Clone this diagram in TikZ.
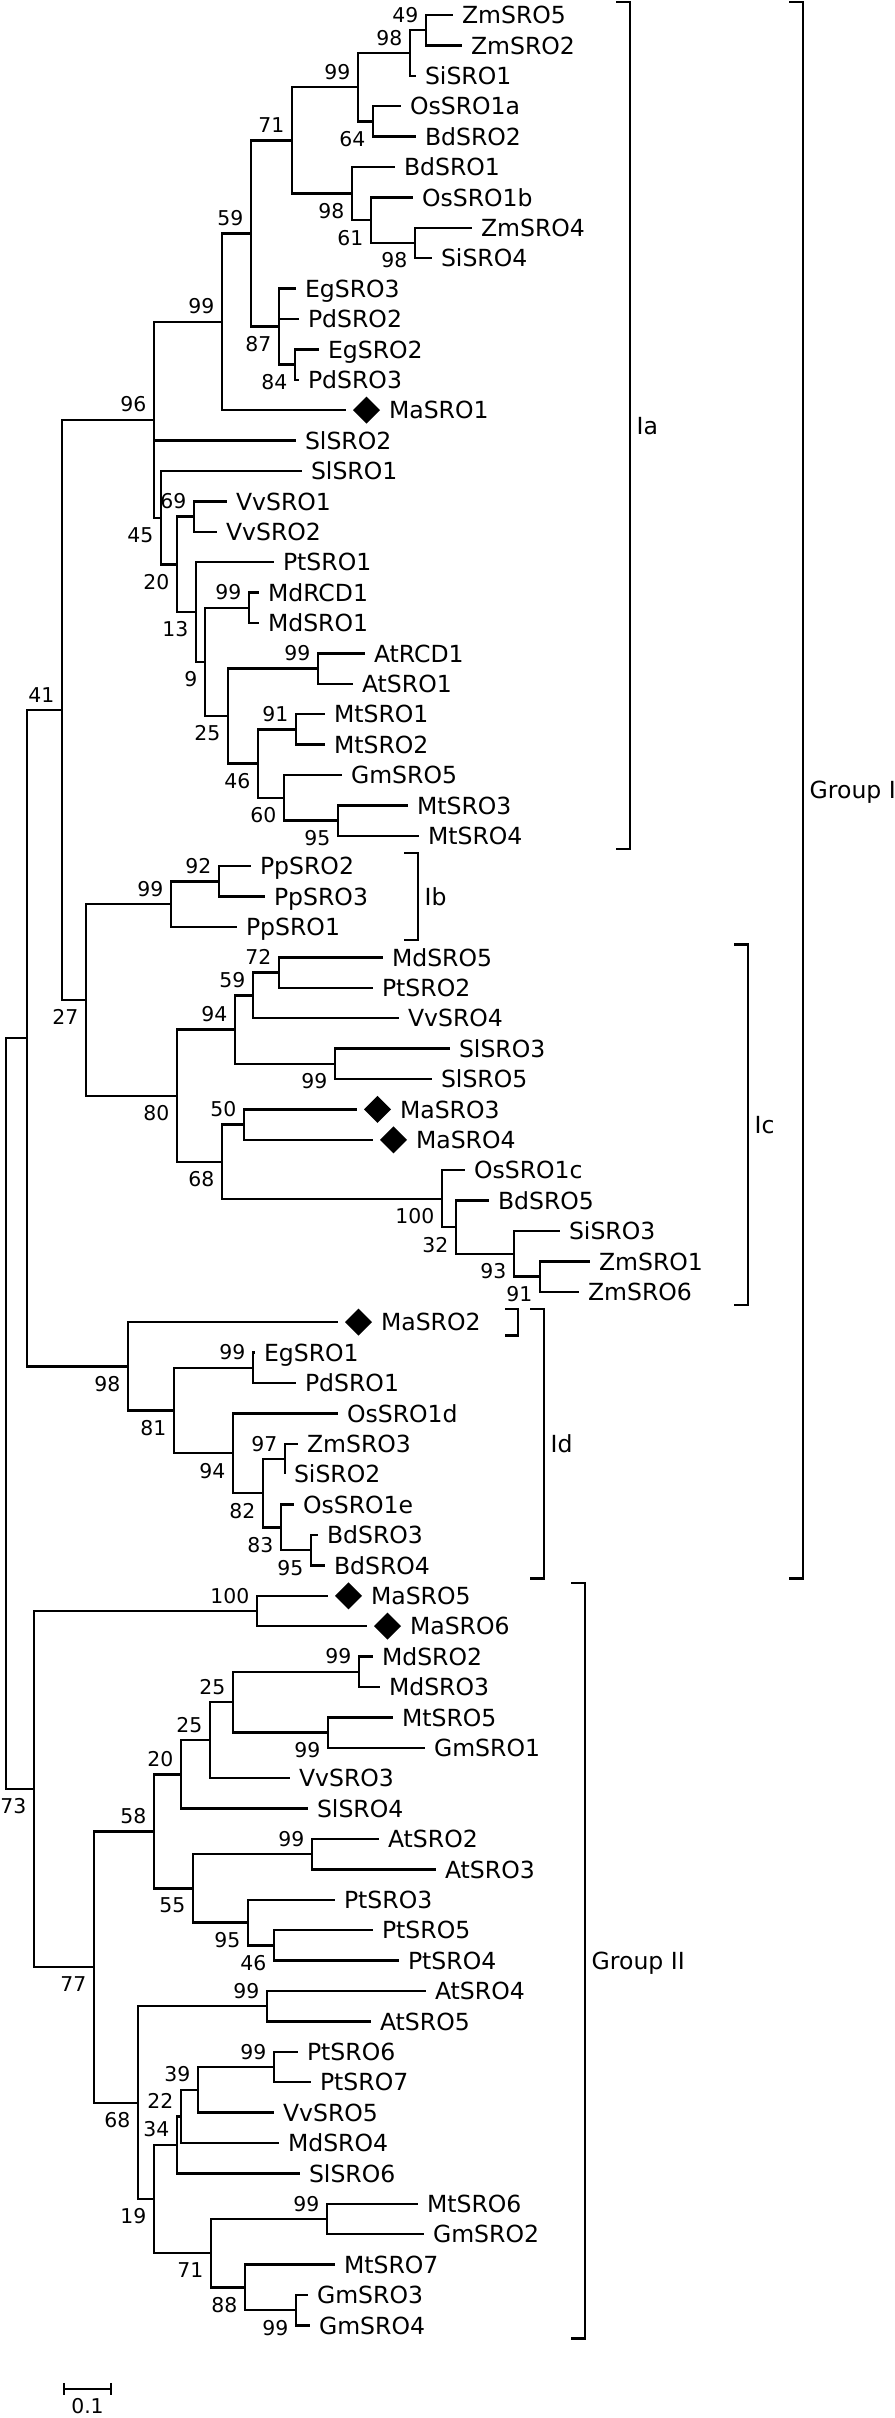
\documentclass[tikz,border=0pt]{standalone}
\usepackage{fontspec}
\setmainfont{DejaVu Sans}
\usetikzlibrary{positioning,shapes.geometric}
\tikzset{
  branch/.style={line width=0.65pt},
  leaf/.style={anchor=west,inner xsep=0.9mm,inner ysep=0pt,outer sep=0pt,
    font=\fontsize{6.7}{8}\selectfont,text height=4.9pt,text depth=0pt},
  gem/.style={diamond,fill=black,inner sep=0pt,outer sep=0pt,minimum width=2.7mm,minimum height=2.7mm},
  boot/.style={inner sep=0pt,font=\fontsize{5.8}{7}\selectfont},
  bsa/.style={boot,anchor=south east,xshift=-0.7mm,yshift=0.7mm},
  bsb/.style={boot,anchor=north east,xshift=-0.7mm,yshift=-0.9mm},
  bracket/.style={line width=0.7pt},
  grp/.style={anchor=west,inner sep=0pt,xshift=0.6mm,font=\fontsize{6.7}{8}\selectfont,
    text height=4.9pt,text depth=0pt}
}
\begin{document}
\begin{tikzpicture}[x=0.1mm,y=-3.04mm]
\useasboundingbox (0,-0.4934) rectangle (894,79.0461);
\foreach \n/\t/\r in {ZmSRO5/453/0,ZmSRO2/462/1,SiSRO1/416/2,OsSRO1a/401/3,BdSRO2/416/4,
  BdSRO1/395/5,OsSRO1b/413/6,ZmSRO4/472/7,SiSRO4/432/8,EgSRO3/296/9,PdSRO2/299/10,
  EgSRO2/319/11,PdSRO3/299/12,SlSRO2/296/14,SlSRO1/302/15,VvSRO1/227/16,VvSRO2/217/17,
  PtSRO1/274/18,MdRCD1/259/19,MdSRO1/259/20,AtRCD1/365/21,AtSRO1/353/22,MtSRO1/325/23,
  MtSRO2/325/24,GmSRO5/342/25,MtSRO3/408/26,MtSRO4/419/27,PpSRO2/251/28,PpSRO3/265/29,
  PpSRO1/237/30,MdSRO5/383/31,PtSRO2/373/32,VvSRO4/399/33,SlSRO3/450/34,SlSRO5/432/35,
  OsSRO1c/465/38,BdSRO5/489/39,SiSRO3/560/40,ZmSRO1/590/41,ZmSRO6/579/42,EgSRO1/255/44,
  PdSRO1/296/45,OsSRO1d/338/46,ZmSRO3/298/47,SiSRO2/285/48,OsSRO1e/294/49,BdSRO3/318/50,
  BdSRO4/325/51,MdSRO2/373/54,MdSRO3/380/55,MtSRO5/393/56,GmSRO1/425/57,VvSRO3/290/58,
  SlSRO4/308/59,AtSRO2/379/60,AtSRO3/436/61,PtSRO3/335/62,PtSRO5/373/63,PtSRO4/399/64,
  AtSRO4/426/65,AtSRO5/371/66,PtSRO6/298/67,PtSRO7/311/68,VvSRO5/274/69,MdSRO4/279/70,
  SlSRO6/300/71,MtSRO6/418/72,GmSRO2/424/73,MtSRO7/335/74,GmSRO3/308/75,GmSRO4/310/76}{
  \node[leaf] (\n) at (\t,\r) {\n};}
\foreach \n/\t/\r in {MaSRO1/346/13,MaSRO3/357/36,MaSRO4/373/37,MaSRO2/338/43,
  MaSRO5/328/52,MaSRO6/367/53}{
  \coordinate (t\n) at (\t,\r);
  \node[gem,right=0.7mm of t\n] (g\n) {};
  \node[leaf,right=0mm of g\n] (\n) {\n};
}
\foreach \n/\x/\r in {A/426/0.5,B/410/1.25,C/358/2.375,D/373/3.5,E/292/4.125,F/352/5.875,
  G/371/6.75,H/415/7.5,I/251/7.1875,J/279/10.25,K/295/11.5,L/222/10.09375,M/154/13.3144531,
  N/161/16.5351563,O/177/18.0703125,P/194/16.5,Q/196/19.640625,R/205/21.28125,S/249/19.5,
  T/228/23.0625,U/318/21.5,V/258/24.625,W/296/23.5,X/284/25.75,Y/338/26.5,
  AA/86/32.3984375,AB/171/29.25,AC/177/35.546875,AD/219/28.5,AE/235/33.375,AF/222/37.71875,
  AG/253/32.25,AH/335/34.5,AI/279/31.5,AJ/244/36.5,AK/442/38.9375,AL/456/39.875,
  AM/514/40.75,AN/540/41.5,AO/128/44.453125,AP/174/45.90625,AQ/253/44.5,AR/233/47.3125,
  AS/263/48.625,AT/285/47.5,AU/281/49.75,AV/311/50.5,AW/257/52.5,AX/94/64.2109375,
  AY/154/59.75,AZ/138/68.671875,BA/181/57.875,BB/193/61.625,BC/210/56.75,BD/233/55.5,
  BE/359/54.5,BF/328/56.5,BG/312/60.5,BH/248/62.75,BI/274/63.5,BJ/267/65.5,BK/154/71.84375,
  BL/177/70.0625,BM/211/73.625,BN/181/69.125,BO/198/68.25,BP/274/67.5,BQ/327/72.5,
  BR/245/74.75,BS/296/75.5,CA/62/22.8564453,CB/27/33.6547852,CC/34/58.3554688,
  Root/6/46.005127}{
  \coordinate (n\n) at (\x,\r);}
\foreach \p/\c in {nA/ZmSRO5,nA/ZmSRO2,nB/nA,nB/SiSRO1,nD/OsSRO1a,nD/BdSRO2,nC/nB,nC/nD,
  nH/ZmSRO4,nH/SiSRO4,nG/OsSRO1b,nG/nH,nF/BdSRO1,nF/nG,nE/nC,nE/nF,nK/EgSRO2,nK/PdSRO3,
  nJ/EgSRO3,nJ/PdSRO2,nJ/nK,nI/nE,nI/nJ,nL/nI,nL/tMaSRO1,nP/VvSRO1,nP/VvSRO2,
  nS/MdRCD1,nS/MdSRO1,nU/AtRCD1,nU/AtSRO1,nW/MtSRO1,nW/MtSRO2,nY/MtSRO3,nY/MtSRO4,
  nX/GmSRO5,nX/nY,nV/nW,nV/nX,nT/nU,nT/nV,nR/nS,nR/nT,nQ/PtSRO1,nQ/nR,nO/nP,nO/nQ,
  nN/SlSRO1,nN/nO,nM/nL,nM/SlSRO2,nM/nN,nAD/PpSRO2,nAD/PpSRO3,nAB/nAD,nAB/PpSRO1,
  nAI/MdSRO5,nAI/PtSRO2,nAG/nAI,nAG/VvSRO4,nAH/SlSRO3,nAH/SlSRO5,nAE/nAG,nAE/nAH,
  nAJ/tMaSRO3,nAJ/tMaSRO4,nAN/ZmSRO1,nAN/ZmSRO6,nAM/SiSRO3,nAM/nAN,nAL/BdSRO5,nAL/nAM,
  nAK/OsSRO1c,nAK/nAL,nAF/nAJ,nAF/nAK,nAC/nAE,nAC/nAF,nAA/nAB,nAA/nAC,nCA/nM,nCA/nAA,
  nAQ/EgSRO1,nAQ/PdSRO1,nAT/ZmSRO3,nAT/SiSRO2,nAV/BdSRO3,nAV/BdSRO4,nAU/OsSRO1e,nAU/nAV,
  nAS/nAT,nAS/nAU,nAR/OsSRO1d,nAR/nAS,nAP/nAQ,nAP/nAR,nAO/tMaSRO2,nAO/nAP,nCB/nCA,nCB/nAO,
  nAW/tMaSRO5,nAW/tMaSRO6,nBE/MdSRO2,nBE/MdSRO3,nBF/MtSRO5,nBF/GmSRO1,nBD/nBE,nBD/nBF,
  nBC/nBD,nBC/VvSRO3,nBA/nBC,nBA/SlSRO4,nBG/AtSRO2,nBG/AtSRO3,nBI/PtSRO5,nBI/PtSRO4,
  nBH/PtSRO3,nBH/nBI,nBB/nBG,nBB/nBH,nAY/nBA,nAY/nBB,nBJ/AtSRO4,nBJ/AtSRO5,nBP/PtSRO6,
  nBP/PtSRO7,nBO/nBP,nBO/VvSRO5,nBN/nBO,nBN/MdSRO4,nBL/nBN,nBL/SlSRO6,nBQ/MtSRO6,
  nBQ/GmSRO2,nBS/GmSRO3,nBS/GmSRO4,nBR/MtSRO7,nBR/nBS,nBM/nBQ,nBM/nBR,nBK/nBL,nBK/nBM,
  nAZ/nBJ,nAZ/nBK,nAX/nAY,nAX/nAZ,nCC/nAW,nCC/nAX,nRoot/nCB,nRoot/nCC}{
  \draw[branch] (\p) |- (\c);}
\foreach \c/\v in {A/49,B/98,C/99,E/71,I/59,L/99,M/96,P/69,S/99,U/99,W/91,AD/92,AB/99,
  AI/72,AG/59,AE/94,AJ/50,CA/41,AQ/99,AT/97,AW/100,BE/99,BD/25,BC/25,BA/20,BG/99,AY/58,
  BJ/99,BP/99,BO/39,BN/22,BL/34,BQ/99}{
  \node[bsa] (b\c) at (n\c) {\v};}
\foreach \c/\v in {D/64,F/98,G/61,H/98,K/84,J/87,N/45,O/20,Q/13,R/9,T/25,V/46,X/60,Y/95,
  AH/99,AN/91,AM/93,AL/32,AK/100,AF/68,AC/80,AA/27,AV/95,AU/83,AS/82,AR/94,AP/81,AO/98,
  BF/99,BI/46,BH/95,BB/55,BS/99,BR/88,BM/71,BK/19,AZ/68,AX/77,CC/73}{
  \node[bsb] (b\c) at (n\c) {\v};}
\foreach \x/\a/\b/\n/\t in {630/0/27/Ia/Ia,803/0/51/GI/Group I,418/28/30/Ib/Ib,
  748/31/42/Ic/Ic,544/43/51/Id/Id,585/52/76/GII/Group II}{
  \draw[bracket] (\x-14,\a-0.43) -| (\x,\b+0.43) -- (\x-14,\b+0.43);
  \node[grp] (g\n) at (\x,{(\a+\b)/2}) {\t};
}
\draw[bracket] (505,42.57) -| (518,43.43) -- (505,43.43);
\coordinate (sL) at (64,78.09);
\coordinate (sR) at (111,78.09);
\draw[branch] (sL) -- (sR);
\draw[branch] ([yshift=0.6mm]sL) -- ([yshift=-0.6mm]sL);
\draw[branch] ([yshift=0.6mm]sR) -- ([yshift=-0.6mm]sR);
\node[boot,anchor=north,yshift=-0.9mm] (sT) at (87.5,78.09) {0.1};
\end{tikzpicture}
\end{document}
